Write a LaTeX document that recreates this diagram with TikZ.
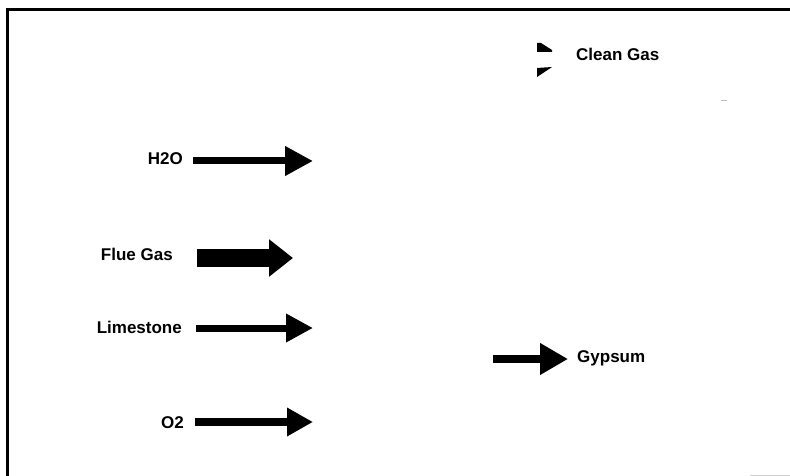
\documentclass[tikz,border=0pt]{standalone}
\usepackage{fontspec}
\setmainfont{Liberation Sans}
\usetikzlibrary{arrows.meta}
\begin{document}
\begin{tikzpicture}[x=1pt,y=-1pt,
  lbl/.style={font=\fontsize{17}{20}\bfseries\selectfont, inner sep=0pt},
  flow/.style={line width=#1, draw=black},
  frameline/.style={line width=2.5pt, draw=black}]
\useasboundingbox (0,0) rectangle (790,476);
% frame
\draw[frameline] (7.5,476) -- (7.5,9.5) -- (790,9.5);
\draw[gray!40, line width=1pt] (750,475.5) -- (790,475.5);
\draw[gray!50, line width=1pt] (721,101) -- (727,101);
% labels
\node[lbl, anchor=east] (h2o) at (183,159) {H2O};
\node[lbl, anchor=east] (flue) at (173,254) {Flue Gas};
\node[lbl, anchor=east] (lime) at (182,327) {Limestone};
\node[lbl, anchor=east] (o2) at (184,423) {O2};
\node[lbl, anchor=west] (gyp) at (577,358) {Gypsum};
\node[lbl, anchor=west] (clean) at (576,54) {Clean Gas};
% arrow ends
\coordinate (h2oA) at (193,161); \coordinate (h2oB) at (313,161);
\coordinate (flueA) at (197,258); \coordinate (flueB) at (293,258);
\coordinate (limeA) at (196,328); \coordinate (limeB) at (313,328);
\coordinate (o2A) at (195,422); \coordinate (o2B) at (313,422);
\coordinate (gypA) at (493,359); \coordinate (gypB) at (568,359);
\draw[flow=7pt, -{Triangle[length=28pt,width=28pt]}] (h2oA) -- (h2oB);
\draw[flow=18pt, -{Triangle[length=24pt,width=36pt]}] (flueA) -- (flueB);
\draw[flow=7pt, -{Triangle[length=27pt,width=27pt]}] (limeA) -- (limeB);
\draw[flow=8pt, -{Triangle[length=26pt,width=27pt]}] (o2A) -- (o2B);
\draw[flow=8pt, -{Triangle[length=28pt,width=30pt]}] (gypA) -- (gypB);
% clean gas arrow fragments
\fill (537,43) -- (541,43) -- (552,50) -- (552,52) -- (537,52) -- cycle;
\fill (537,68) -- (552,67) -- (537,77) -- cycle;
\end{tikzpicture}
\end{document}
